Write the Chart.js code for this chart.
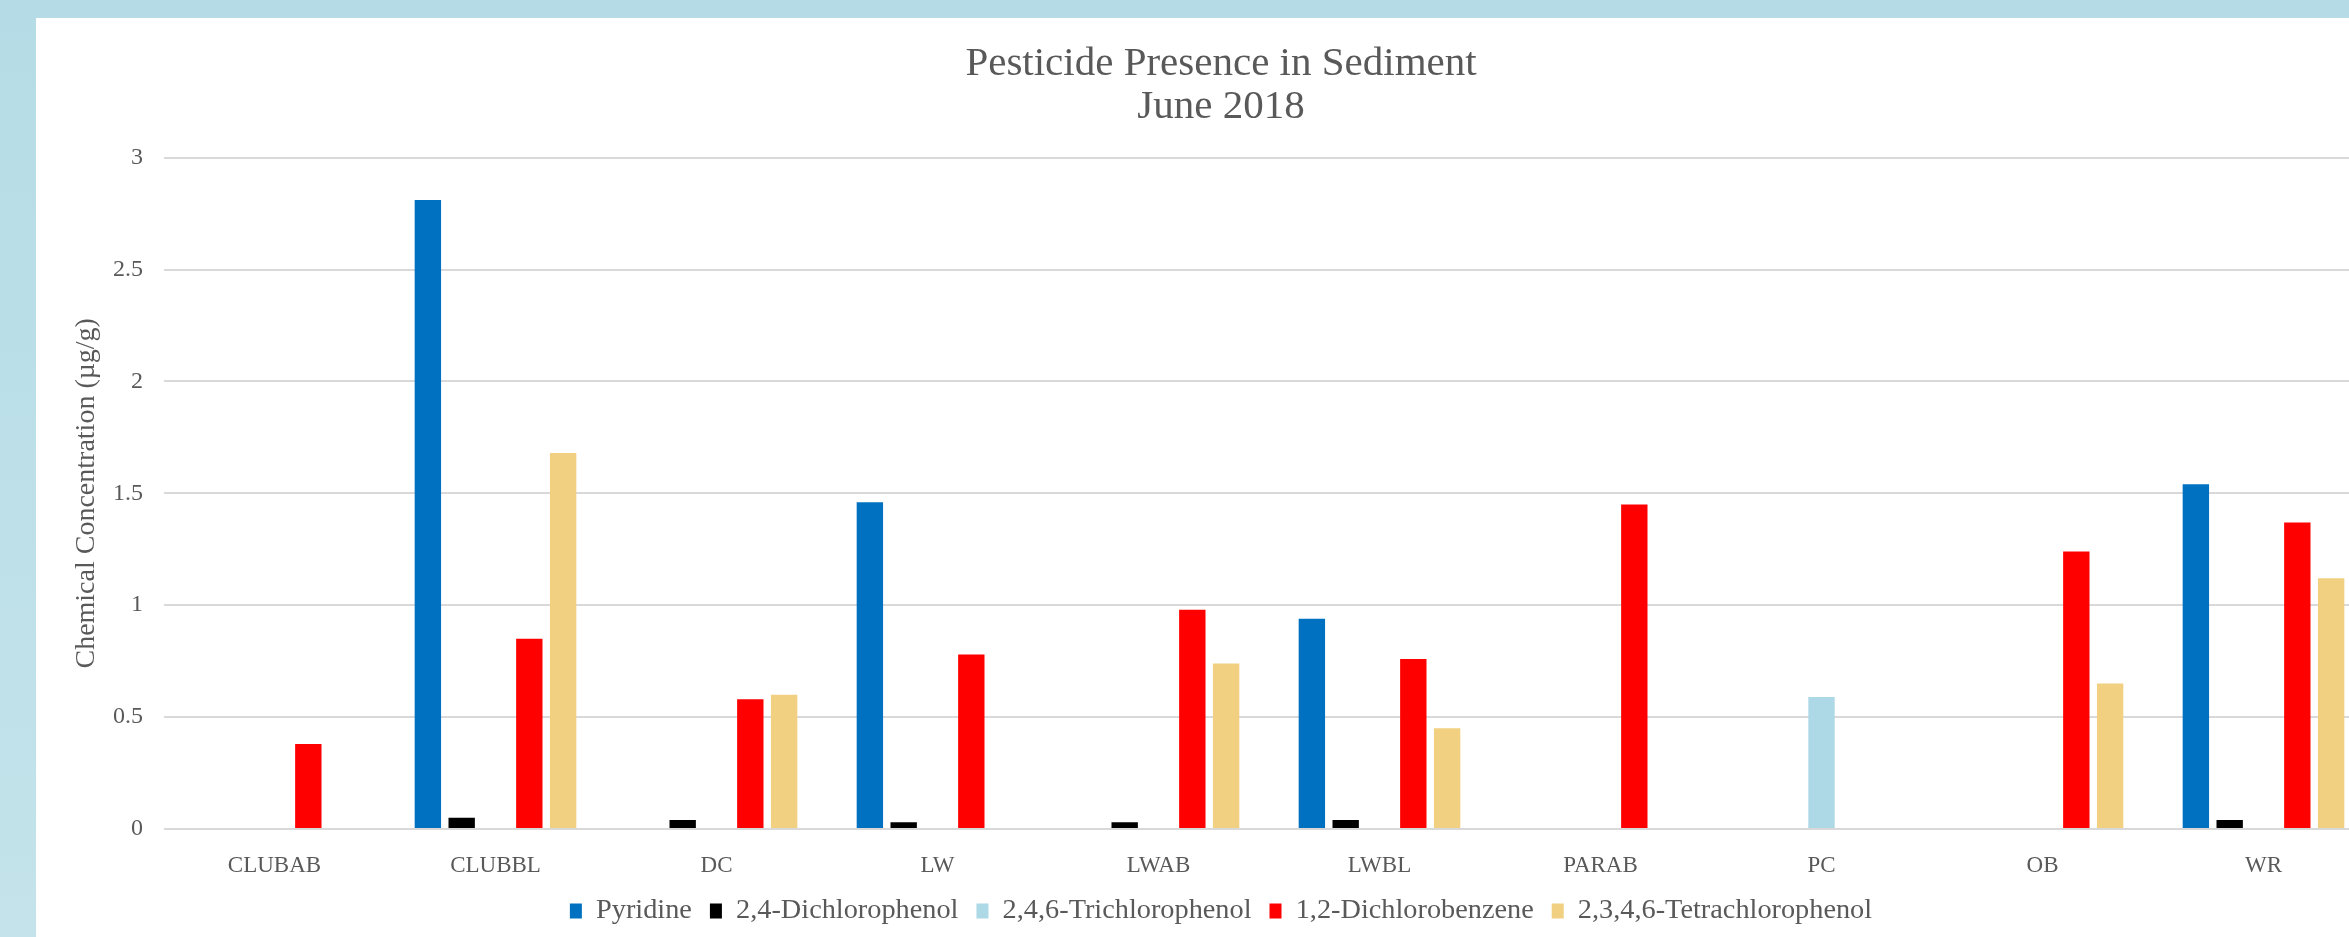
<!DOCTYPE html>
<html>
<head>
<meta charset="utf-8">
<title>Pesticide Presence in Sediment</title>
<script src="https://cdn.jsdelivr.net/npm/chart.js@4/dist/chart.umd.min.js"></script>
<style>
  html, body {
    margin: 0;
    padding: 0;
    width: 2349px;
    height: 937px;
    overflow: hidden;
    background: linear-gradient(to bottom, #b5dce6, #c4e3eb);
  }
  #frame {
    position: absolute;
    left: 36px;
    top: 18px;
    width: 2394px;
    height: 919px;
    background: #ffffff;
  }
</style>
</head>
<body>
<div id="frame">
  <canvas id="sedimentChart" width="2394" height="919"></canvas>
</div>
<script>
// sampling sites
const sites = ['CLUBAB', 'CLUBBL', 'DC', 'LW', 'LWAB', 'LWBL', 'PARAB', 'PC', 'OB', 'WR'];

// concentrations in µg/g, null = not detected
const pyridine        = [null, 2.81, null, 1.46, null, 0.94, null, null, null, 1.54];
const dichlorophenol  = [null, 0.05, 0.04, 0.03, 0.03, 0.04, null, null, null, 0.04];
const trichlorophenol = [null, null, null, null, null, null, null, 0.59, null, null];
const dichlorobenzene = [0.38, 0.85, 0.58, 0.78, 0.98, 0.76, 1.45, null, 1.24, 1.37];
const tetrachlorophenol = [null, 1.68, 0.60, null, 0.74, 0.45, null, null, 0.65, 1.12];

const yTicks = [0, 0.5, 1, 1.5, 2, 2.5, 3];

const textColor = '#595959';
const fontFamily = '"Liberation Serif", "DejaVu Serif", serif';

function makeSet(label, data, color) {
    return {
        label: label,
        data: data,
        backgroundColor: color,
        borderWidth: 0,
        categoryPercentage: 0.765,
        barPercentage: 0.78
    };
}

const ctx = document.getElementById('sedimentChart').getContext('2d');

new Chart(ctx, {
    type: 'bar',
    data: {
        labels: sites,
        datasets: [
            makeSet('Pyridine', pyridine, '#0070c0'),
            makeSet('2,4-Dichlorophenol', dichlorophenol, '#000000'),
            makeSet('2,4,6-Trichlorophenol', trichlorophenol, '#add8e6'),
            makeSet('1,2-Dichlorobenzene', dichlorobenzene, '#ff0000'),
            makeSet('2,3,4,6-Tetrachlorophenol', tetrachlorophenol, '#f1d081')
        ]
    },
    options: {
        responsive: false,
        animation: false,
        layout: {
            padding: { left: 0, right: 24, top: 0, bottom: 1.85 }
        },
        scales: {
            x: {
                grid: { display: false, drawTicks: false },
                border: { display: false },
                ticks: {
                    color: textColor,
                    font: { family: fontFamily, size: 23 },
                    padding: 23,
                    maxRotation: 0,
                    autoSkip: false
                },
                afterFit: (scale) => { scale.height = 49.85; }
            },
            y: {
                min: 0,
                max: 3,
                grid: { color: '#d9d9d9', lineWidth: 2, drawTicks: false },
                border: { display: false },
                afterBuildTicks: (scale) => {
                    scale.ticks = yTicks.map(v => ({ value: v }));
                },
                ticks: {
                    color: textColor,
                    font: { family: fontFamily, size: 24 },
                    padding: 21,
                    callback: (v) => String(v)
                },
                title: {
                    display: true,
                    text: 'Chemical Concentration (µg/g)',
                    color: textColor,
                    font: { family: fontFamily, size: 28 },
                    padding: { top: 34, bottom: 0 }
                },
                afterFit: (scale) => { scale.width = 128; }
            },
            // empty right axis, only keeps title and legend centred like the original
            yRight: {
                position: 'right',
                min: 0,
                max: 3,
                grid: { display: false, drawTicks: false },
                border: { display: false },
                ticks: { display: false },
                afterFit: (scale) => { scale.width = 32; }
            }
        },
        plugins: {
            title: {
                display: true,
                text: ['Pesticide Presence in Sediment', 'June 2018'],
                color: textColor,
                font: { family: fontFamily, size: 41, weight: 'normal', lineHeight: 1.05 },
                padding: { top: 25, bottom: 28.5 }
            },
            legend: {
                position: 'bottom',
                labels: {
                    color: textColor,
                    font: { family: fontFamily, size: 28.3 },
                    boxWidth: 12,
                    boxHeight: 15,
                    padding: 18
                }
            },
            tooltip: { enabled: false }
        }
    }
});
</script>
</body>
</html>
